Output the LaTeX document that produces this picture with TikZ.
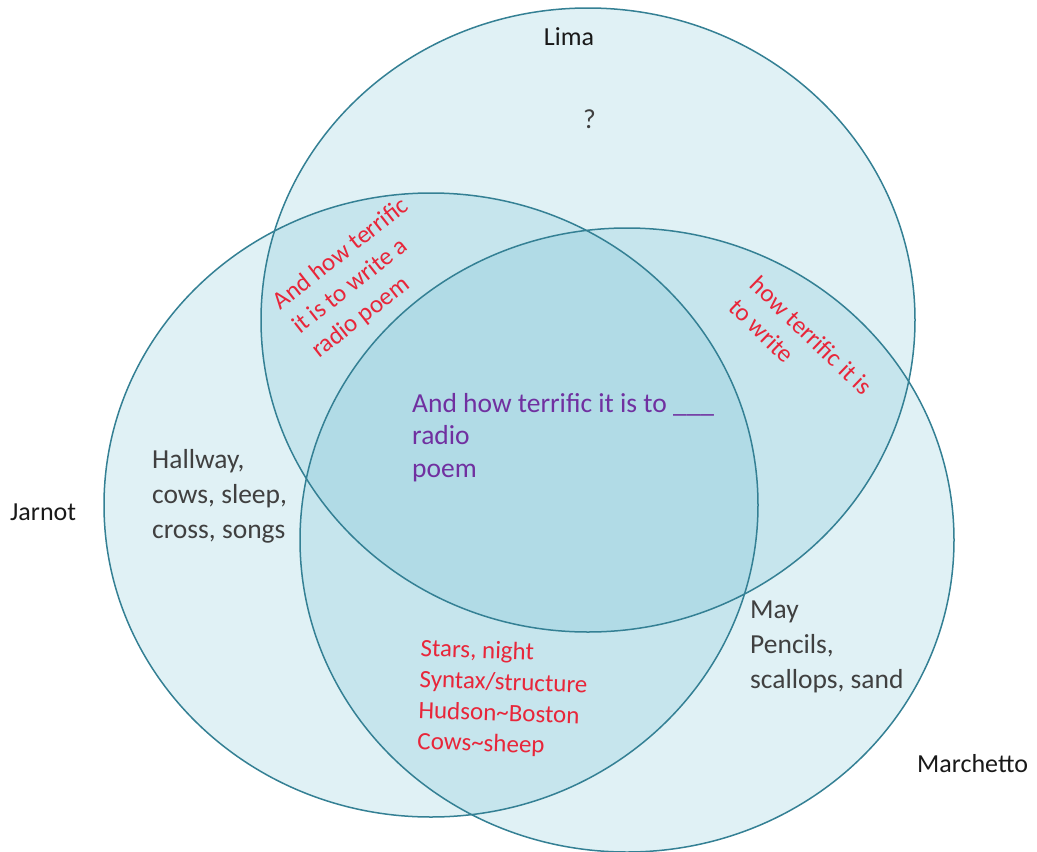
\documentclass[tikz,border=0pt]{standalone}
\usepackage{fontspec}
\setmainfont{Carlito}
\definecolor{vennfill}{RGB}{75,172,198}
\definecolor{vennline}{RGB}{52,128,148}
\definecolor{redtext}{RGB}{232,38,58}
\definecolor{purpletext}{RGB}{112,48,160}
\definecolor{graytext}{RGB}{64,64,64}

\begin{document}
\begin{tikzpicture}[x=1pt, y=-1pt,
    setname/.style={font=\fontsize{26}{30}\selectfont, text=black!90, inner sep=0pt},
    words/.style={font=\fontsize{27.5}{35}\selectfont, text=graytext, align=left, inner sep=0pt, anchor=base west},
    notes/.style={font=\fontsize{25}{31}\selectfont, text=redtext, align=left, inner sep=0pt, anchor=base west}]
    \useasboundingbox (0,0) rectangle (1037,852);
    \fill[white] (0,0) rectangle (1037,852);
    % the three sets
    \fill[vennfill, fill opacity=.17] (588,320) ellipse [x radius=327, y radius=312];
    \fill[vennfill, fill opacity=.17] (431,505) ellipse [x radius=327, y radius=312];
    \fill[vennfill, fill opacity=.17] (627,540) ellipse [x radius=327, y radius=312];
    \draw[vennline, line width=1.5pt] (588,320) ellipse [x radius=327, y radius=312];
    \draw[vennline, line width=1.5pt] (431,505) ellipse [x radius=327, y radius=312];
    \draw[vennline, line width=1.5pt] (627,540) ellipse [x radius=327, y radius=312];

    \node[setname, anchor=base] (lima) at (569,45) {Lima};
    \node[setname, anchor=base west] (jarnot) at (10,520) {Jarnot};
    \node[setname, anchor=base west] (marchetto) at (917,772) {Marchetto};

    % multi-line texts sit on the baseline of their last line
    \node[words] (onlyL) at (583,128) {?};
    \node[words] (onlyJ) at (152,538) {Hallway,\\cows, sleep,\\cross, songs};
    \node[words] (onlyM) at (750,688) {May\\Pencils,\\scallops, sand};
    \node[words, text=purpletext, font=\fontsize{27.5}{32.5}\selectfont] (all) at (412,477)
        {And how terrific it is to \_\_\_\\radio\\poem};

    \node[notes, rotate=38] (pairJL) at (319,359) {And how terrific\\it is to write a\\radio poem};
    \node[notes, rotate=-44] (pairLM) at (727,309) {how terrific it is\\to write};
    \node[notes, rotate=-2] (pairJM) at (417,749)
        {Stars, night\\Syntax/structure\\Hudson\textasciitilde Boston\\Cows\textasciitilde sheep};
\end{tikzpicture}
\end{document}
